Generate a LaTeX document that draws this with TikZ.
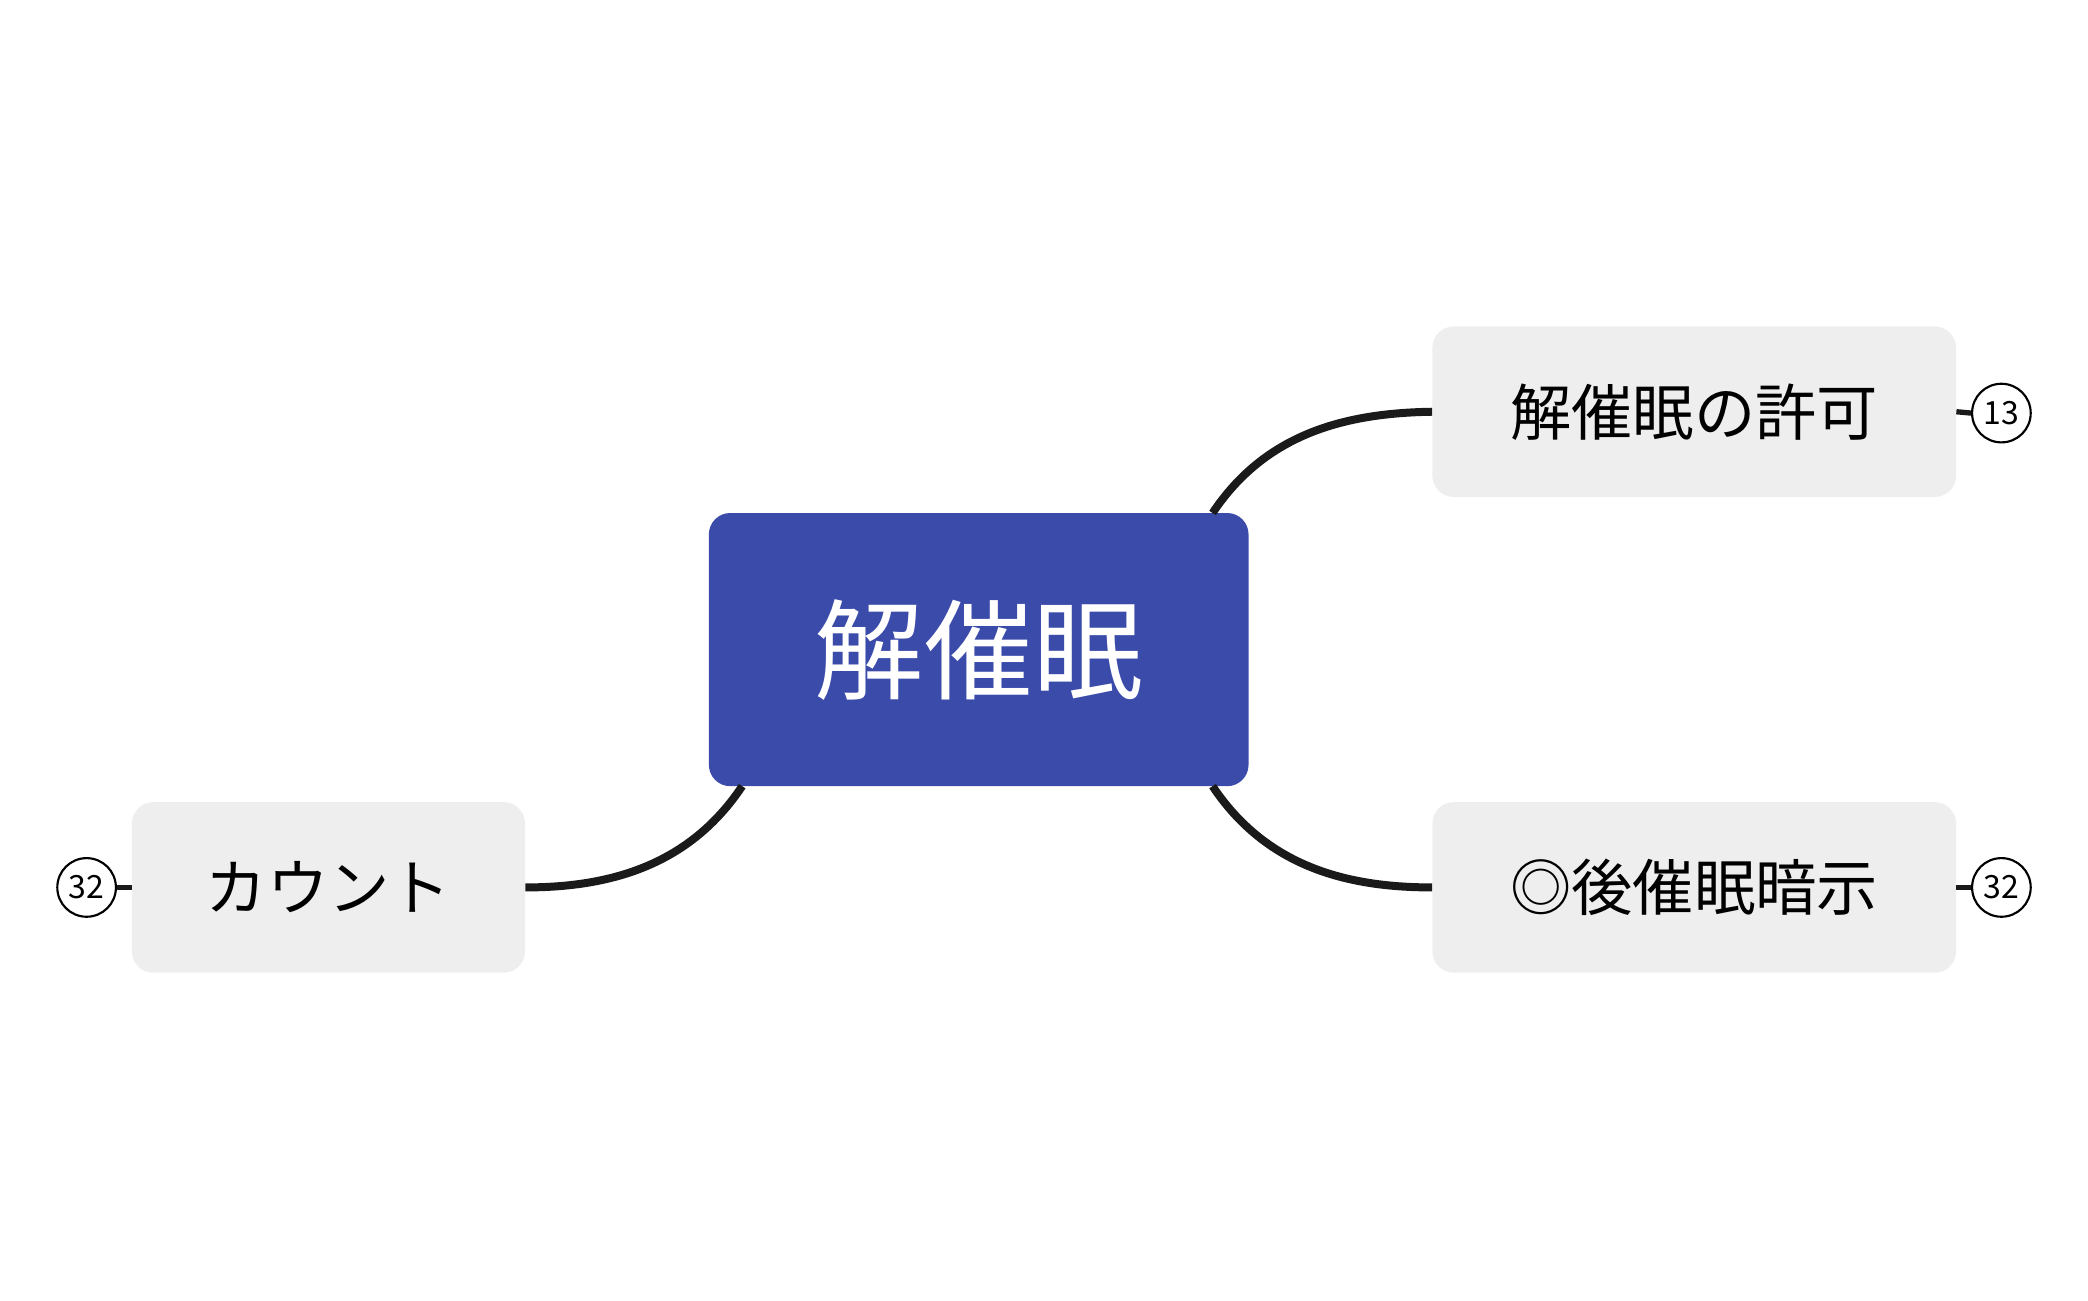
\documentclass[tikz,border=0pt]{standalone}
\usepackage{fontspec}
\setmainfont{Noto Sans CJK JP}
\definecolor{cblue}{HTML}{3B4BAA}
\definecolor{cgray}{HTML}{EEEEEE}
\definecolor{cline}{HTML}{1A1A1A}
\begin{document}
\begin{tikzpicture}[x=1pt,y=-1pt,
  topic/.style={fill=cgray,rounded corners=16pt,minimum width=393pt,minimum height=128pt,font=\fontsize{46}{52}\selectfont,inner sep=0pt},
  badge/.style={circle,draw=black,line width=1.6pt,fill=white,minimum size=44pt,inner sep=0pt,font=\fontsize{24}{26}\selectfont},
  conn/.style={draw=cline,line width=6pt}]
\useasboundingbox (0,0) rectangle (1567,976);
\node[fill=cblue,rounded corners=16pt,minimum width=405pt,minimum height=205pt,text=white,font=\fontsize{82}{90}\selectfont,inner sep=0pt] (c) at (734.5,487.5) {解催眠};
\node[topic] (a) at (1271.5,309) {解催眠の許可};
\node[topic] (b) at (1271.5,666) {◎後催眠暗示};
\node[topic,minimum width=295pt] (l) at (246.5,666) {カウント};
\node[badge] (ba) at (1502,310) {13};
\node[badge] (bb) at (1502,666) {32};
\node[badge] (bl) at (65,666) {32};
\coordinate (c1) at (910,385);
\coordinate (c2) at (910,590);
\coordinate (c3) at (557,590);
\draw[conn] (c1) .. controls (950,325) and (1010,310) .. (a.west);
\draw[conn] (c2) .. controls (950,650) and (1010,666) .. (b.west);
\draw[conn] (c3) .. controls (517,650) and (457,666) .. (l.east);
\draw[conn,line width=4pt] (a.east) -- (ba.west);
\draw[conn,line width=4pt] (b.east) -- (bb.west);
\draw[conn,line width=4pt] (l.west) -- (bl.east);
\end{tikzpicture}
\end{document}
